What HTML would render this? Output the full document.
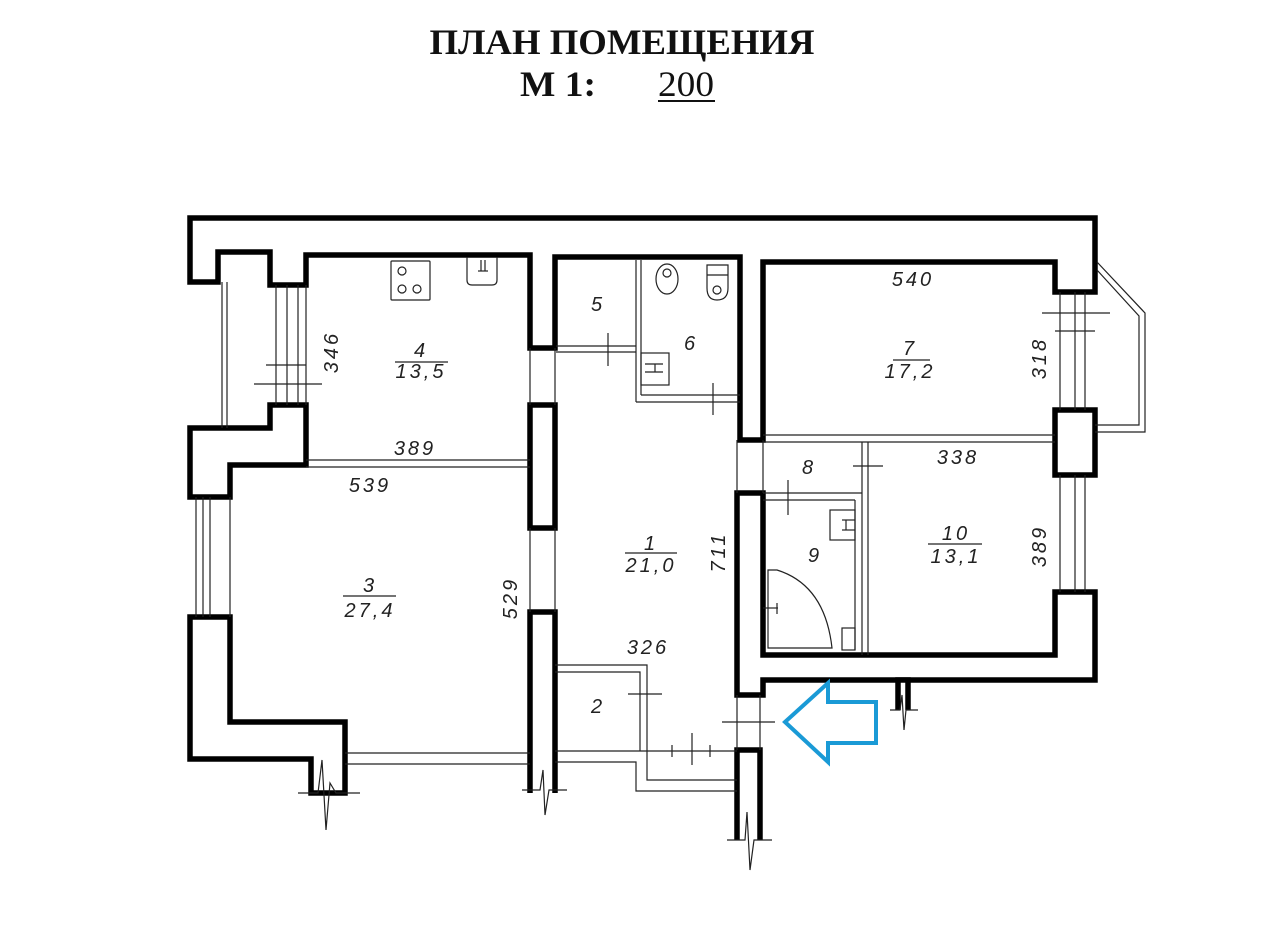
<!DOCTYPE html>
<html><head><meta charset="utf-8"><style>
html,body{margin:0;padding:0;background:#fff;}
body{width:1280px;height:951px;overflow:hidden;position:relative;}
svg{position:absolute;left:0;top:0;}
.t{font-family:"Liberation Serif",serif;font-weight:bold;fill:#111;}
.d{font-family:"Liberation Sans",sans-serif;font-style:italic;font-size:20px;fill:#222;letter-spacing:3px;}
</style></head><body>
<svg width="1280" height="951" viewBox="0 0 1280 951" xmlns="http://www.w3.org/2000/svg">
<text class="t" x="622" y="54" font-size="36" text-anchor="middle" textLength="385" lengthAdjust="spacingAndGlyphs">ПЛАН ПОМЕЩЕНИЯ</text>
<text class="t" x="520" y="96" font-size="36" textLength="76" lengthAdjust="spacingAndGlyphs">М 1:</text>
<text x="658" y="96" font-size="36" font-family="Liberation Serif,serif" fill="#111" textLength="56" lengthAdjust="spacingAndGlyphs">200</text>
<line x1="658" y1="101" x2="715" y2="101" stroke="#111" stroke-width="2"/>

<g fill="#fff" stroke="#000" stroke-width="5.5" stroke-linejoin="miter">
<polygon points="190,218 1095,218 1095,292 1055,292 1055,262 763,262 763,440 740,440 740,257 555,257 555,348 530,348 530,255 306,255 306,285 270,285 270,252 218,252 218,282 190,282"/>
<polygon points="270,405 306,405 306,465 230,465 230,497 190,497 190,428 270,428"/>
<polygon points="190,617 230,617 230,722 345,722 345,793 311,793 311,759 190,759"/>
<rect x="530" y="405" width="25" height="123"/>
<polyline points="530,793 530,612 555,612 555,793"/>
<polygon points="737,493 763,493 763,655 1055,655 1055,592 1095,592 1095,680 763,680 763,695 737,695"/>
<rect x="1055" y="410" width="40" height="65"/>
<polyline points="737,840 737,750 760,750 760,840"/>
<polyline points="898,710 898,680 908,680 908,710"/>
</g>

<g fill="none" stroke="#222" stroke-width="1.2">
<line x1="222" y1="282" x2="222" y2="428"/><line x1="227" y1="282" x2="227" y2="428"/>
<line x1="276" y1="285" x2="276" y2="405"/><line x1="287" y1="285" x2="287" y2="405"/><line x1="298" y1="285" x2="298" y2="405"/><line x1="306" y1="285" x2="306" y2="405"/>
<line x1="266" y1="365" x2="306" y2="365"/><line x1="254" y1="384" x2="322" y2="384"/>
<line x1="196" y1="497" x2="196" y2="617"/><line x1="203" y1="497" x2="203" y2="617"/><line x1="210" y1="497" x2="210" y2="617"/><line x1="230" y1="497" x2="230" y2="617"/>
<line x1="306" y1="460" x2="530" y2="460"/><line x1="306" y1="467" x2="530" y2="467"/>
<line x1="530" y1="348" x2="530" y2="405"/><line x1="555" y1="348" x2="555" y2="405"/>
<line x1="530" y1="528" x2="530" y2="612"/><line x1="555" y1="528" x2="555" y2="612"/>
<line x1="737" y1="440" x2="737" y2="493"/><line x1="763" y1="440" x2="763" y2="493"/>
<line x1="737" y1="695" x2="737" y2="750"/><line x1="760" y1="695" x2="760" y2="750"/>
<line x1="722" y1="722" x2="775" y2="722"/>
<line x1="636" y1="260" x2="636" y2="402"/><line x1="641" y1="260" x2="641" y2="395"/>
<line x1="556" y1="346" x2="636" y2="346"/><line x1="556" y1="352" x2="636" y2="352"/>
<line x1="641" y1="395" x2="740" y2="395"/><line x1="636" y1="402" x2="740" y2="402"/>
<line x1="608" y1="333" x2="608" y2="366"/><line x1="713" y1="383" x2="713" y2="415"/>
<line x1="763" y1="435" x2="1055" y2="435"/><line x1="763" y1="442" x2="1055" y2="442"/>
<line x1="862" y1="442" x2="862" y2="655"/><line x1="868" y1="442" x2="868" y2="655"/>
<line x1="853" y1="466" x2="883" y2="466"/>
<line x1="763" y1="493" x2="862" y2="493"/><line x1="763" y1="500" x2="855" y2="500"/><line x1="855" y1="500" x2="855" y2="650"/>
<line x1="788" y1="480" x2="788" y2="515"/>
<line x1="1060" y1="292" x2="1060" y2="410"/><line x1="1075" y1="292" x2="1075" y2="410"/><line x1="1085" y1="292" x2="1085" y2="410"/>
<line x1="1042" y1="313" x2="1110" y2="313"/><line x1="1055" y1="331" x2="1095" y2="331"/>
<line x1="1060" y1="475" x2="1060" y2="592"/><line x1="1075" y1="475" x2="1075" y2="592"/><line x1="1085" y1="475" x2="1085" y2="592"/>
<polyline points="1097,262 1145,313 1145,432 1095,432"/><polyline points="1097,270 1139,316 1139,425 1095,425"/>
<line x1="345" y1="753" x2="530" y2="753"/><line x1="345" y1="764" x2="530" y2="764"/>
<line x1="555" y1="751" x2="737" y2="751"/>
<polyline points="555,762 636,762 636,791 737,791"/>
<polyline points="555,665 647,665 647,780 737,780"/>
<polyline points="555,672 640,672 640,751"/>
<line x1="628" y1="694" x2="662" y2="694"/>
<line x1="692" y1="733" x2="692" y2="765"/><line x1="672" y1="745" x2="672" y2="757"/><line x1="710" y1="745" x2="710" y2="757"/>
<rect x="391" y="261" width="39" height="39" rx="1"/>
<circle cx="402" cy="271" r="4"/><circle cx="402" cy="289" r="4"/><circle cx="417" cy="289" r="4"/>
<path d="M467,257 V280 Q467,285 472,285 H492 Q497,285 497,280 V257"/>
<line x1="478" y1="271" x2="488" y2="271"/><line x1="481" y1="260" x2="481" y2="271"/><line x1="485" y1="260" x2="485" y2="271"/>
<ellipse cx="667" cy="279" rx="11" ry="15"/><circle cx="667" cy="273" r="4"/>
<path d="M707,265 H728 V288 Q728,300 717,300 Q707,300 707,288 Z"/><line x1="707" y1="275" x2="728" y2="275"/><circle cx="717" cy="290" r="4"/>
<rect x="641" y="353" width="28" height="32"/><line x1="645" y1="364" x2="663" y2="364"/><line x1="645" y1="372" x2="663" y2="372"/><line x1="655" y1="364" x2="655" y2="372"/>
<rect x="830" y="510" width="25" height="30"/><line x1="842" y1="520" x2="855" y2="520"/><line x1="842" y1="530" x2="855" y2="530"/><line x1="846" y1="520" x2="846" y2="530"/>
<path d="M768,570 H777 Q825,585 832,648 H768 Z"/>
<line x1="763" y1="608" x2="778" y2="608"/><line x1="777" y1="603" x2="777" y2="614"/>
<rect x="842" y="628" width="13" height="22"/>
<polyline points="298,793 318,793 322,760 326,830 330,783 336,793 360,793"/>
<polyline points="522,790 540,790 543,770 545,815 549,790 567,790"/>
<polyline points="727,840 745,840 747,812 750,870 754,840 772,840"/>
<polyline points="890,710 900,710 902,695 904,730 906,710 918,710"/>
</g>

<polygon points="785,722 828,683 828,702 876,702 876,743 828,743 828,762" fill="none" stroke="#1a9ad6" stroke-width="4" stroke-linejoin="miter"/>

<g class="d" text-anchor="middle">
<text x="421" y="357">4</text><line x1="395" y1="362" x2="448" y2="362" stroke="#222" stroke-width="1.3"/>
<text x="421" y="378">13,5</text>
<text transform="translate(338,352) rotate(-90)">346</text>
<text x="415" y="455">389</text>
<text x="370" y="492">539</text>
<text x="370" y="592">3</text><line x1="343" y1="596" x2="396" y2="596" stroke="#222" stroke-width="1.3"/>
<text x="370" y="617">27,4</text>
<text transform="translate(517,598) rotate(-90)">529</text>
<text x="651" y="550">1</text><line x1="625" y1="553" x2="677" y2="553" stroke="#222" stroke-width="1.3"/>
<text x="651" y="572">21,0</text>
<text transform="translate(725,552) rotate(-90)">711</text>
<text x="648" y="654">326</text>
<text x="598" y="713">2</text>
<text x="598" y="311">5</text>
<text x="691" y="350">6</text>
<text x="913" y="286">540</text>
<text x="910" y="355">7</text><line x1="893" y1="360" x2="930" y2="360" stroke="#222" stroke-width="1.3"/>
<text x="910" y="378">17,2</text>
<text transform="translate(1046,358) rotate(-90)">318</text>
<text x="809" y="474">8</text>
<text x="958" y="464">338</text>
<text x="815" y="562">9</text>
<text x="956" y="540">10</text><line x1="928" y1="544" x2="982" y2="544" stroke="#222" stroke-width="1.3"/>
<text x="956" y="563">13,1</text>
<text transform="translate(1046,546) rotate(-90)">389</text>
</g>
</svg>
</body></html>
